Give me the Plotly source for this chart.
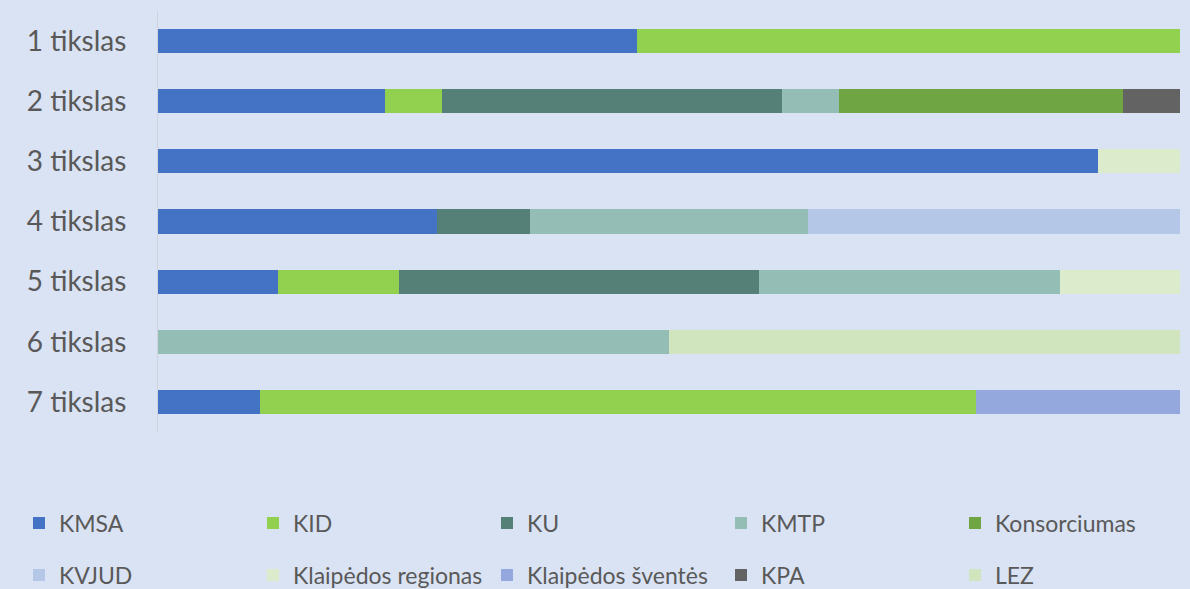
import plotly.graph_objects as go

categories = ["1 tikslas", "2 tikslas", "3 tikslas", "4 tikslas", "5 tikslas", "6 tikslas", "7 tikslas"]

series_names = ["KMSA", "KID", "KU", "KMTP", "Konsorciumas",
                "KVJUD", "Klaipėdos regionas", "Klaipėdos šventės", "KPA", "LEZ"]

kmsa = [46.9, 22.2, 92.0, 27.3, 11.8, 0, 10.0]
kid = [53.1, 5.6, 0, 0, 11.8, 0, 70.0]
ku = [0, 33.3, 0, 9.1, 35.3, 0, 0]
kmtp = [0, 5.6, 0, 27.3, 29.4, 50.0, 0]
konsorciumas = [0, 27.8, 0, 0, 0, 0, 0]
kvjud = [0, 0, 0, 36.4, 0, 0, 0]
klaipedos_regionas = [0, 0, 8.0, 0, 11.8, 0, 0]
klaipedos_sventes = [0, 0, 0, 0, 0, 0, 20.0]
kpa = [0, 5.6, 0, 0, 0, 0, 0]
lez = [0, 0, 0, 0, 0, 50.0, 0]

values = [kmsa, kid, ku, kmtp, konsorciumas, kvjud,
          klaipedos_regionas, klaipedos_sventes, kpa, lez]

colors = ["#4472C4", "#92D050", "#548078", "#93BDB5", "#70A543",
          "#B4C7E7", "#DBEBCC", "#94A8DE", "#636363", "#D0E5BD"]

bg = "#DAE3F3"
font_family = "Lato"

W, H = 1190, 589
legend_x0, legend_dx = 19, 234
legend_rows_y = [523, 575]

fig = go.Figure()
legend_layouts = {}
for i, (name, vals, col) in enumerate(zip(series_names, values, colors)):
    lname = "legend" if i == 0 else f"legend{i + 1}"
    fig.add_trace(go.Bar(
        y=categories, x=vals, name=name, orientation="h",
        marker=dict(color=col, line=dict(width=0)),
        legend=lname,
        hoverinfo="name+x",
    ))
    row, col_i = divmod(i, 5)
    legend_layouts[lname] = dict(
        orientation="h", xref="container", yref="container",
        x=(legend_x0 + legend_dx * col_i) / W, y=1 - legend_rows_y[row] / H,
        xanchor="left", yanchor="middle", itemwidth=30,
        font=dict(family=font_family, size=23, color="#595959"),
        bgcolor="rgba(0,0,0,0)",
    )

fig.update_layout(
    barmode="stack", barnorm="percent", bargap=0.6,
    width=W, height=H,
    paper_bgcolor=bg, plot_bgcolor=bg,
    margin=dict(l=158, r=10, t=11, b=157, autoexpand=False),
    font=dict(family=font_family, color="#595959"),
    xaxis=dict(visible=False, range=[0, 100], fixedrange=True),
    yaxis=dict(autorange="reversed", showline=True, linecolor="#CFD4DC",
               linewidth=1, showgrid=False, ticks="", ticklabelstandoff=25,
               tickfont=dict(family=font_family, size=28, color="#595959")),
    showlegend=True,
    **legend_layouts,
)

fig.write_html("out.html", config={"displayModeBar": False},
               post_script="document.body.style.margin='0px';document.body.style.padding='0px';")
